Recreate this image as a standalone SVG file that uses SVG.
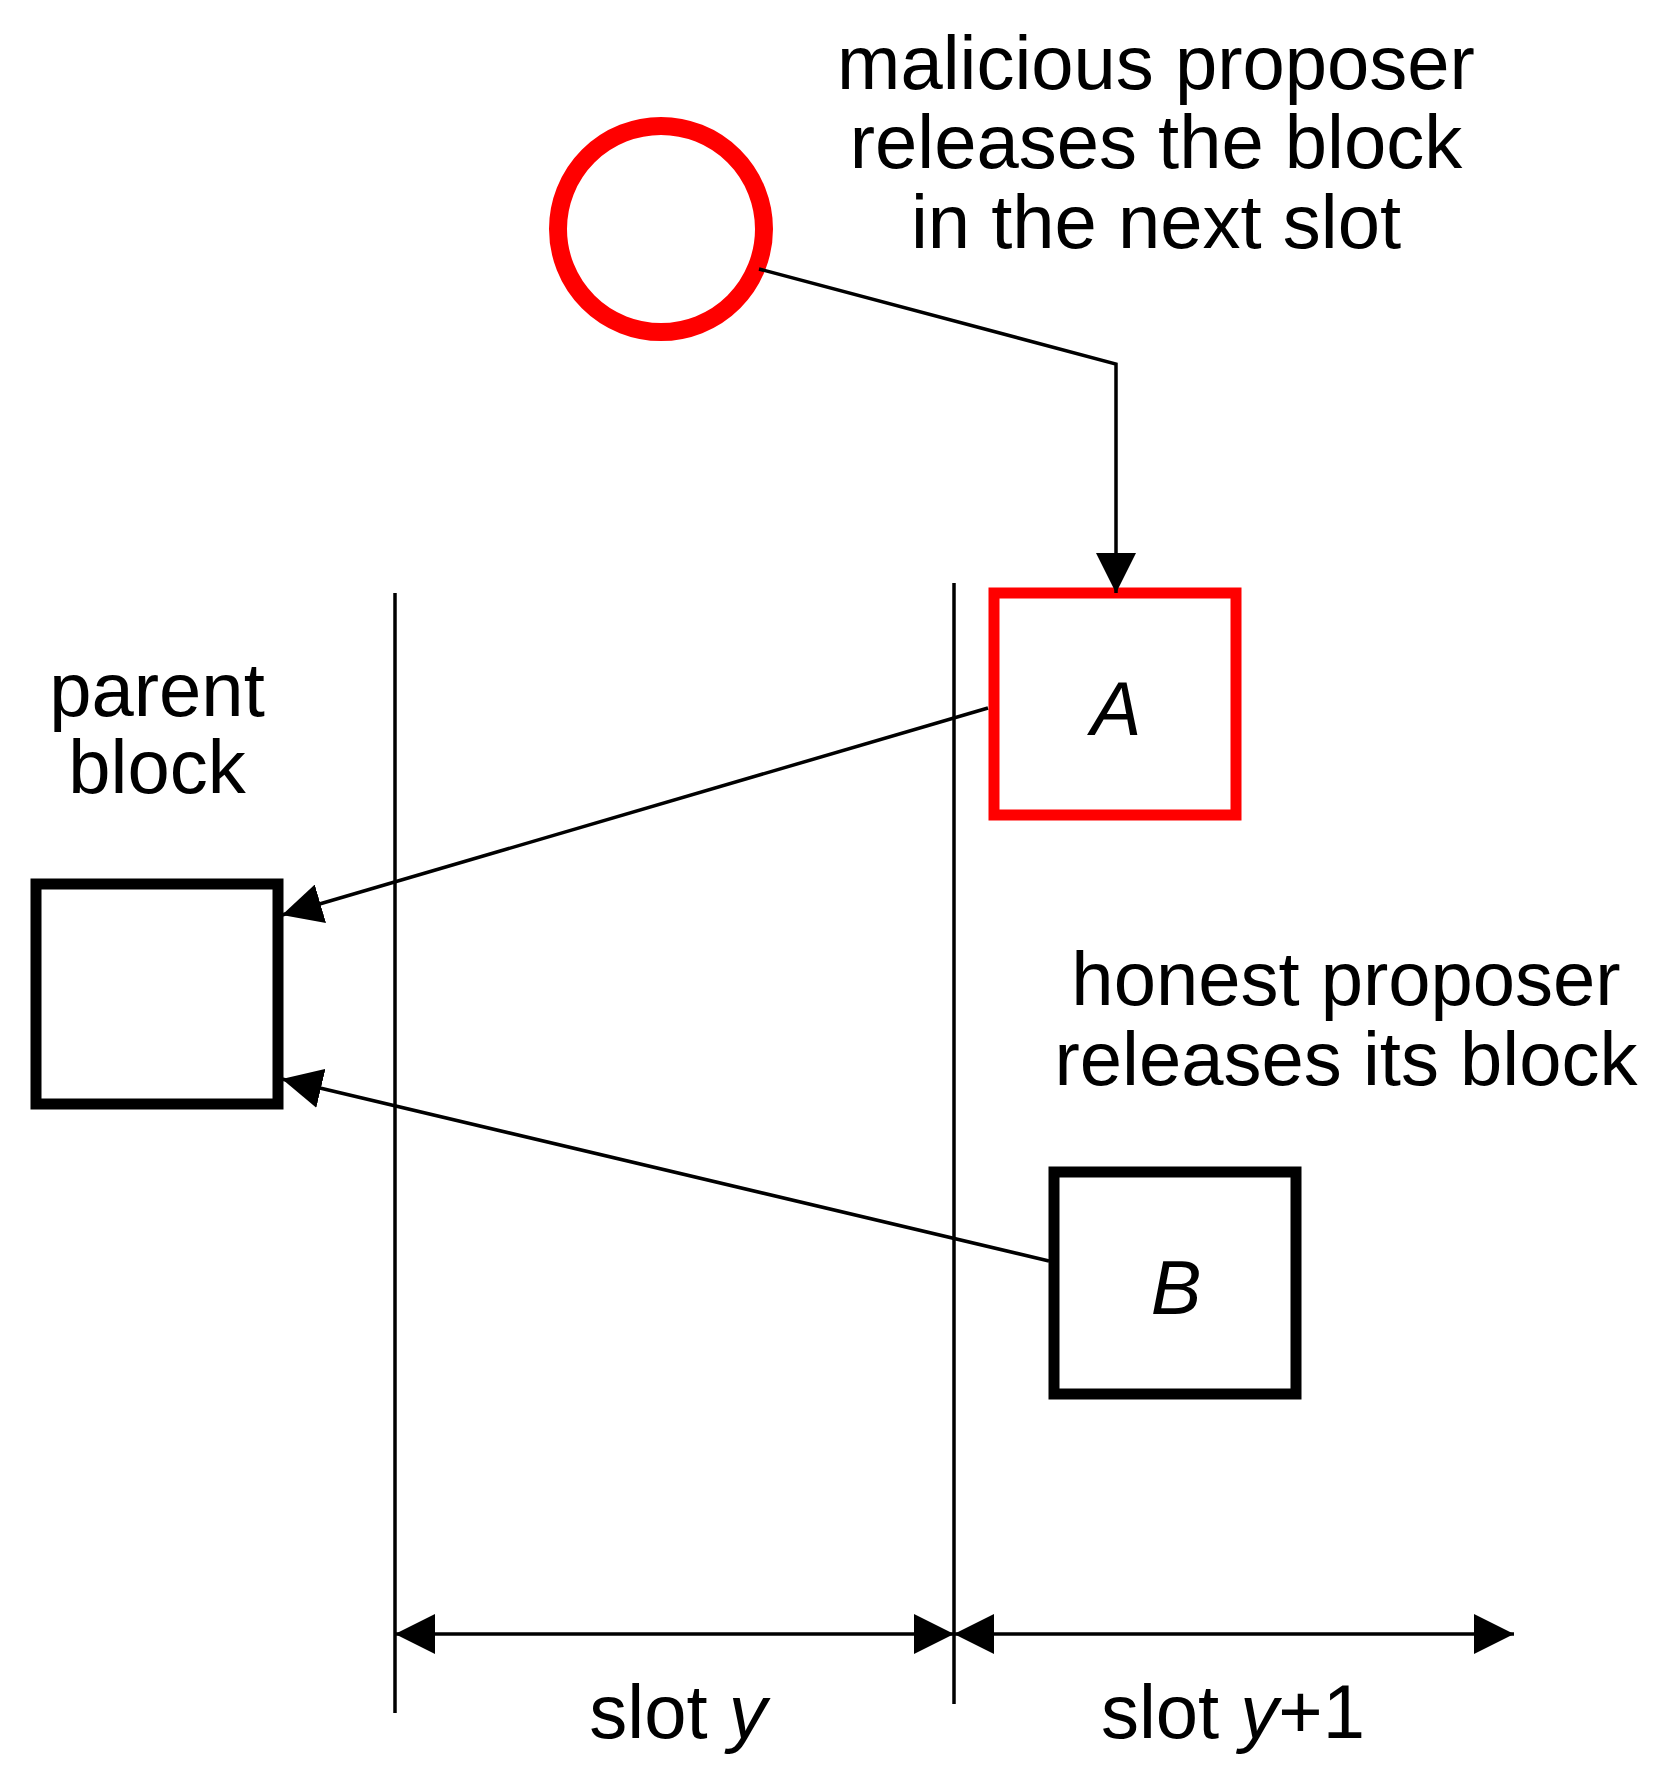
<svg xmlns="http://www.w3.org/2000/svg" width="1670" height="1786" viewBox="0 0 1670 1786">
<style>
text{font-family:"Liberation Sans",Arial,sans-serif;font-size:76px;fill:#000;text-anchor:middle}
.it{font-style:italic}
.ln{stroke:#000;stroke-width:3.5;fill:none}
</style>
<defs>
<marker id="ah" viewBox="0 0 10 10" refX="10" refY="5" markerWidth="12" markerHeight="12" markerUnits="userSpaceOnUse" orient="auto"><path d="M0,0 L10,5 L0,10 z" fill="#000" transform="scale(1)"/></marker>
<marker id="big" viewBox="0 0 40 40" refX="40" refY="20" markerWidth="40" markerHeight="40" markerUnits="userSpaceOnUse" orient="auto-start-reverse"><path d="M0,0 L40,20 L0,40 z" fill="#000"/></marker>
</defs>
<rect width="1670" height="1786" fill="#fff"/>
<g id="malicious-label"><text x="1156" y="89">malicious proposer</text><text x="1156" y="168">releases the block</text><text x="1156" y="248">in the next slot</text></g>
<g id="proposer"><circle cx="661" cy="229" r="103" fill="none" stroke="#f00" stroke-width="18"/></g>
<g id="blockA"><rect x="994" y="593" width="242" height="222" fill="none" stroke="#f00" stroke-width="11"/><text class="it" x="1116" y="735">A</text></g>
<g id="parent"><rect x="36" y="884" width="242" height="220" fill="none" stroke="#000" stroke-width="11"/><text x="157" y="716">parent</text><text x="157" y="793">block</text></g>
<g id="honest-label"><text x="1346" y="1005">honest proposer</text><text x="1346" y="1085">releases its block</text></g>
<g id="blockB"><rect x="1054" y="1172" width="242" height="222" fill="none" stroke="#000" stroke-width="11"/><text class="it" x="1176" y="1314">B</text></g>
<g id="slots"><text x="678" y="1738">slot <tspan class="it">y</tspan></text><text x="1233" y="1738">slot <tspan class="it">y</tspan>+1</text></g>
<g id="connectors">
<line class="ln" x1="395" y1="593" x2="395" y2="1713"/>
<line class="ln" x1="954" y1="583" x2="954" y2="1704"/>
<polyline class="ln" points="759,269 1116,364 1116,593" marker-end="url(#big)"/>
<line class="ln" x1="988" y1="708" x2="282" y2="915" marker-end="url(#big)"/>
<line class="ln" x1="1049" y1="1261" x2="282" y2="1079" marker-end="url(#big)"/>
<line class="ln" x1="395" y1="1634" x2="954" y2="1634" marker-start="url(#big)" marker-end="url(#big)"/>
<line class="ln" x1="954" y1="1634" x2="1514" y2="1634" marker-start="url(#big)" marker-end="url(#big)"/>
</g>
</svg>
